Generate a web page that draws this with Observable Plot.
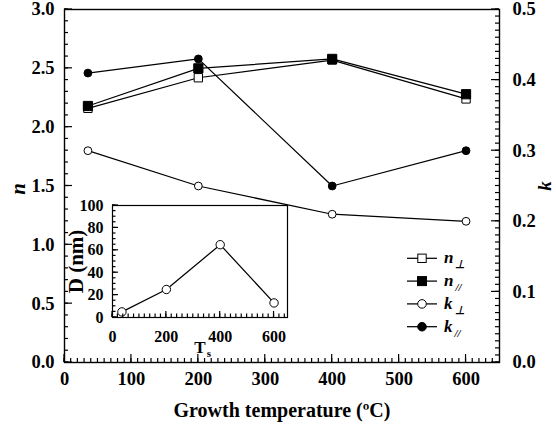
<!DOCTYPE html>
<html><head><meta charset="utf-8">
<script src="https://cdn.jsdelivr.net/npm/d3@7"></script>
<script src="https://cdn.jsdelivr.net/npm/@observablehq/plot@0.6"></script>
<style>
body{margin:0;background:#fff}
#wrap{position:relative;width:556px;height:426px}
#wrap > div, #wrap > svg{position:absolute}
</style>
</head><body><div id="wrap"></div>
<script>
// ---- data ----
const temps = [35, 200, 400, 600];
const nPerp = [2.16, 2.42, 2.57, 2.24];
const nPar  = [2.18, 2.50, 2.58, 2.28];
const kPerp = [0.30, 0.25, 0.21, 0.20];
const kPar  = [0.41, 0.43, 0.25, 0.30];
const insetT = [35, 200, 400, 600];
const insetD = [5, 25, 65, 13];
const nTicks = [0, 0.5, 1.0, 1.5, 2.0, 2.5, 3.0];
const kTicks = [0, 0.1, 0.2, 0.3, 0.4, 0.5];
const xTicks = [0, 100, 200, 300, 400, 500, 600];
const insetXTicks = [0, 200, 400, 600];
const insetYTicks = [0, 20, 40, 60, 80, 100];
const legendLabels = [["n","\u22A5"],["n","//"],["k","\u22A5"],["k","//"]];
const kScale = 6; // k axis 0–0.5 spans the n axis 0–3

const rows = (vals, f = 1) => temps.map((t, i) => ({t, v: vals[i] * f}));
const nMinor = d3.range(0, 30.01, 1).map(d => d / 10);
const kMinor = d3.range(0, 50.01, 1).map(d => d / 100 * kScale);
const xMinor = d3.range(0, 650, 10);

const serif = "Liberation Serif, Times New Roman, serif";
const font = {fontFamily: serif, fontWeight: "bold", fontSize: "18.5px", overflow: "visible", background: "transparent"};
const lw = 1.25;

// inward ticks drawn with the chart's own scales
function addTicks(chart, side, values, len) {
  const sx = chart.scale("x"), sy = chart.scale("y");
  const [xl, xr] = d3.extent(sx.range), [yt, yb] = d3.extent(sy.range);
  const g = d3.select(chart).append("g");
  values.forEach(v => {
    let x1, x2, y1, y2;
    if (side === "left")  { y1 = y2 = sy.apply(v); x1 = xl; x2 = xl + len; }
    if (side === "right") { y1 = y2 = sy.apply(v); x1 = xr; x2 = xr - len; }
    if (side === "bottom"){ x1 = x2 = sx.apply(v); y1 = yb; y2 = yb - len; }
    g.append("line").attr("x1", x1).attr("x2", x2).attr("y1", y1).attr("y2", y2)
      .attr("stroke", "black").attr("stroke-width", 1.2);
  });
}

const W = 556, H = 426, mL = 64, mR = 57, mT = 9, mB = 64;

const main = Plot.plot({
  width: W, height: H,
  marginLeft: mL, marginRight: mR, marginTop: mT, marginBottom: mB,
  x: {domain: [0, 650], axis: null},
  y: {domain: [0, 3], axis: null},
  style: font,
  marks: [
    Plot.frame({strokeWidth: 1.4}),
    Plot.axisY(nTicks, {anchor: "left", tickSize: 0, tickPadding: 10, tickFormat: d => d.toFixed(1), label: null}),
    Plot.axisY(kTicks.map(k => k * kScale), {anchor: "right", tickSize: 0, tickPadding: 13, tickFormat: d => (d / kScale).toFixed(1), label: null}),
    Plot.axisX(xTicks, {anchor: "bottom", tickSize: 0, tickPadding: 9, label: null}),
    Plot.text(["Growth temperature (\u00BAC)"], {frameAnchor: "bottom", dy: 48, lineAnchor: "middle", textAnchor: "middle", fontSize: 20, fontWeight: "bold"}),
    Plot.text(["n"], {frameAnchor: "left", dx: -46, dy: 3, rotate: -90, textAnchor: "middle", lineAnchor: "middle", fontSize: 21, fontStyle: "italic", fontWeight: "bold"}),
    Plot.text(["k"], {frameAnchor: "right", dx: 45, rotate: -90, textAnchor: "middle", lineAnchor: "middle", fontSize: 19, fontStyle: "italic", fontWeight: "bold"}),
    Plot.line(rows(nPerp), {x: "t", y: "v", stroke: "black", strokeWidth: lw}),
    Plot.line(rows(nPar), {x: "t", y: "v", stroke: "black", strokeWidth: lw}),
    Plot.line(rows(kPerp, kScale), {x: "t", y: "v", stroke: "black", strokeWidth: lw}),
    Plot.line(rows(kPar, kScale), {x: "t", y: "v", stroke: "black", strokeWidth: lw}),
    Plot.dot(rows(nPerp), {x: "t", y: "v", symbol: "square", r: 4.7, fill: "white", stroke: "black", strokeWidth: 1}),
    Plot.dot(rows(nPar), {x: "t", y: "v", symbol: "square", r: 5.2, fill: "black", stroke: "black", strokeWidth: 1}),
    Plot.dot(rows(kPerp, kScale), {x: "t", y: "v", symbol: "circle", r: 3.9, fill: "white", stroke: "black", strokeWidth: 1}),
    Plot.dot(rows(kPar, kScale), {x: "t", y: "v", symbol: "circle", r: 3.9, fill: "black", stroke: "black", strokeWidth: 1})
  ]
});
addTicks(main, "left", nTicks, 8);
addTicks(main, "left", nMinor, 4);
addTicks(main, "right", kTicks.map(k => k * kScale), 8);
addTicks(main, "right", kMinor, 4);
addTicks(main, "bottom", xTicks, 8);
addTicks(main, "bottom", xMinor, 4);
const wrap = document.getElementById("wrap");
main.style.left = "0px"; main.style.top = "0px";
wrap.appendChild(main);

// ---- inset ----
const iRows = insetT.map((t, i) => ({t, d: insetD[i]}));
const iW = 235, iH = 177, iL = 50, iR = 10, iT = 10, iB = 55;
const inset = Plot.plot({
  width: iW, height: iH,
  marginLeft: iL, marginRight: iR, marginTop: iT, marginBottom: iB,
  x: {domain: [0, 650], axis: null},
  y: {domain: [0, 100], axis: null},
  style: {...font, fontSize: "16px"},
  marks: [
    Plot.frame({fill: "white", stroke: "black", strokeWidth: 1.2}),
    Plot.axisY(insetYTicks, {anchor: "left", tickSize: 0, tickPadding: 9, label: null}),
    Plot.axisX(insetXTicks, {anchor: "bottom", tickSize: 0, tickPadding: 13, label: null}),
    Plot.text(["D (nm)"], {frameAnchor: "left", dx: -36, rotate: -90, textAnchor: "middle", lineAnchor: "middle", fontSize: 21, fontWeight: "bold"}),
    Plot.text(["T"], {frameAnchor: "bottom", dy: 30, textAnchor: "middle", lineAnchor: "middle", fontSize: 17, fontWeight: "bold"}),
    Plot.text(["s"], {frameAnchor: "bottom", dx: 9, dy: 36, textAnchor: "middle", lineAnchor: "middle", fontSize: 11, fontWeight: "bold"}),
    Plot.line(iRows, {x: "t", y: "d", stroke: "black", strokeWidth: lw}),
    Plot.dot(iRows, {x: "t", y: "d", r: 4.2, fill: "white", stroke: "black", strokeWidth: 1})
  ]
});
addTicks(inset, "left", insetYTicks, 6);
addTicks(inset, "left", d3.range(0, 101, 5), 3.5);
addTicks(inset, "bottom", insetXTicks, 6);
addTicks(inset, "bottom", d3.range(0, 650, 20), 3.5);
inset.style.left = "62px"; inset.style.top = "195px";
wrap.appendChild(inset);

// ---- legend ----
const leg = d3.create("svg").attr("width", 95).attr("height", 100)
  .style("left", "400px").style("top", "245px")
  .style("font-family", serif).style("font-weight", "bold");
const symbols = [["square", "white"], ["square", "black"], ["circle", "white"], ["circle", "black"]];
legendLabels.forEach(([a, b], i) => {
  const g = leg.append("g").attr("transform", `translate(0,${13.3 + i * 22.8})`);
  g.append("line").attr("x1", 7).attr("x2", 37).attr("stroke", "black").attr("stroke-width", lw);
  const [sym, fill] = symbols[i];
  if (sym === "square") {
    const s = fill === "black" ? 9 : 8.4;
    g.append("rect").attr("x", 22 - s / 2).attr("y", -s / 2).attr("width", s).attr("height", s)
      .attr("fill", fill).attr("stroke", "black");
  } else {
    g.append("circle").attr("cx", 22).attr("cy", 0).attr("r", 4.3).attr("fill", fill).attr("stroke", "black");
  }
  const t = g.append("text").attr("x", 44).attr("y", 5).attr("font-size", 17).attr("font-style", "italic");
  t.append("tspan").text(a);
  t.append("tspan").attr("dx", 2).attr("dy", 5).attr("font-size", 11).attr("font-style", "italic").text(b);
});
wrap.appendChild(leg.node());
</script>
</body></html>
